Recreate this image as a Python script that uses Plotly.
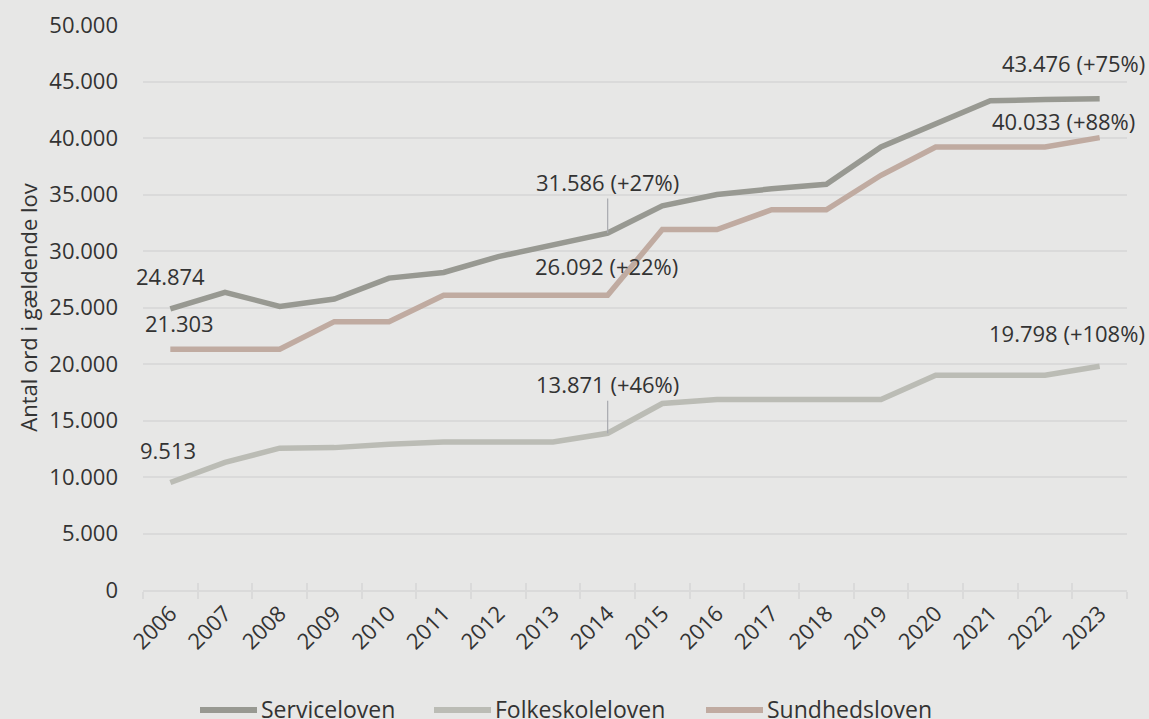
import plotly.graph_objects as go

years = [str(y) for y in range(2006, 2024)]
serviceloven = [24874, 26350, 25100, 25750, 27600, 28100, 29500, 30600, 31586, 34000,
                35000, 35500, 35900, 39200, 41200, 43300, 43400, 43476]
folkeskoleloven = [9513, 11300, 12550, 12600, 12900, 13100, 13100, 13100, 13871, 16500,
                   16850, 16850, 16850, 16850, 19000, 19000, 19000, 19798]
sundhedsloven = [21303, 21303, 21303, 23750, 23750, 26092, 26092, 26092, 26092, 31900,
                 31900, 33650, 33650, 36700, 39200, 39200, 39200, 40033]

names = ["Serviceloven", "Folkeskoleloven", "Sundhedsloven"]
colors = ["#989992", "#bbbcb5", "#c0aba1"]
series = [serviceloven, folkeskoleloven, sundhedsloven]

FONT = "Open Sans"
TXT = "#333333"
FS = 22
idx = list(range(len(years)))
n = len(years)
boundaries = [i - 0.5 for i in range(n + 1)]

# plot-area geometry (pixels) used to place the manual legend in paper coords
L, R, T, B, W, H = 143, 22, 25, 129, 1149, 719
PW, PH = W - L - R, H - T - B

def px(xpix):
    return (xpix - L) / PW

def py(ypix):
    return (H - B - ypix) / PH

fig = go.Figure()
for nm, c, s in zip(names, colors, series):
    fig.add_trace(go.Scatter(x=idx, y=s, name=nm, mode="lines",
                             line=dict(color=c, width=5.5), hoverinfo="skip"))

# invisible trace carrying the overlay axis (ticks crossing the axis line)
fig.add_trace(go.Scatter(x=idx, y=[0] * n, xaxis="x2", mode="lines",
                         line=dict(width=0), showlegend=False, hoverinfo="skip"))

def lab(i, y, text, xs=0, ys=0):
    fig.add_annotation(x=i, y=y, text=text, showarrow=False,
                       xshift=xs, yshift=ys, font=dict(family=FONT, size=FS, color=TXT))

def lab_arrow(i, y, text, ay):
    fig.add_annotation(x=i, y=y, text=text, showarrow=True, arrowhead=0,
                       arrowwidth=1.2, arrowcolor="#a8a9ae", ax=0, ay=ay,
                       font=dict(family=FONT, size=FS, color=TXT))

lab(0, serviceloven[0], "24.874", 0, 33)
lab(0, sundhedsloven[0], "21.303", 9, 26)
lab(0, folkeskoleloven[0], "9.513", -2, 33)
lab_arrow(8, serviceloven[8], "31.586 (+27%)", -51)
lab(8, sundhedsloven[8], "26.092 (+22%)", -1, 29)
lab_arrow(8, folkeskoleloven[8], "13.871 (+46%)", -49)
lab(17, serviceloven[17], "43.476 (+75%)", -26, 36)
lab(17, sundhedsloven[17], "40.033 (+88%)", -36, 17)
lab(17, folkeskoleloven[17], "19.798 (+108%)", -33, 33)

# manual legend (symbol line + label), matching the reference spacing
legend_sym_start = [200, 434, 706]
for nm, c, x0 in zip(names, colors, legend_sym_start):
    fig.add_shape(type="line", xref="paper", yref="paper",
                  x0=px(x0), x1=px(x0 + 57), y0=py(710), y1=py(710),
                  line=dict(color=c, width=6))
    fig.add_annotation(xref="paper", yref="paper", x=px(x0 + 59), y=py(709),
                       xanchor="left", yanchor="middle", showarrow=False, text=nm,
                       font=dict(family=FONT, size=23, color=TXT))

GRID = "#dadada"
fig.update_layout(
    width=W, height=H,
    paper_bgcolor="#e7e7e6", plot_bgcolor="#e7e7e6",
    margin=dict(l=L, r=R, t=T, b=B),
    font=dict(family=FONT, color=TXT),
    showlegend=False,
    xaxis=dict(range=[-0.5, n - 0.5], tickmode="array", tickvals=idx, ticktext=years,
               tickangle=-45, ticks="", automargin=False,
               showline=True, linecolor=GRID, linewidth=2, zeroline=False,
               showgrid=False, tickfont=dict(family=FONT, size=FS, color=TXT),
               minor=dict(tickmode="array", tickvals=boundaries, ticks="outside",
                          ticklen=7, tickcolor=GRID, tickwidth=1.5, showgrid=False)),
    xaxis2=dict(range=[-0.5, n - 0.5], overlaying="x", side="bottom", anchor="y",
                tickmode="array", tickvals=boundaries, ticks="inside", ticklen=7,
                tickcolor=GRID, tickwidth=1.5, showticklabels=False, automargin=False,
                showgrid=False, showline=False, zeroline=False),
    yaxis=dict(range=[0, 50000], tickvals=list(range(0, 50001, 5000)),
               ticktext=[f"{v:,}".replace(",", ".") for v in range(0, 50001, 5000)],
               showgrid=True, gridcolor=GRID, gridwidth=2, zeroline=False,
               automargin=False,
               tickfont=dict(family=FONT, size=FS, color=TXT), ticklabelstandoff=24,
               title=dict(text="Antal ord i gældende lov", standoff=5,
                          font=dict(family=FONT, size=22, color=TXT))),
)

fig.write_html("out.html", post_script="document.body.style.margin='0';",
               config={"displayModeBar": False})
